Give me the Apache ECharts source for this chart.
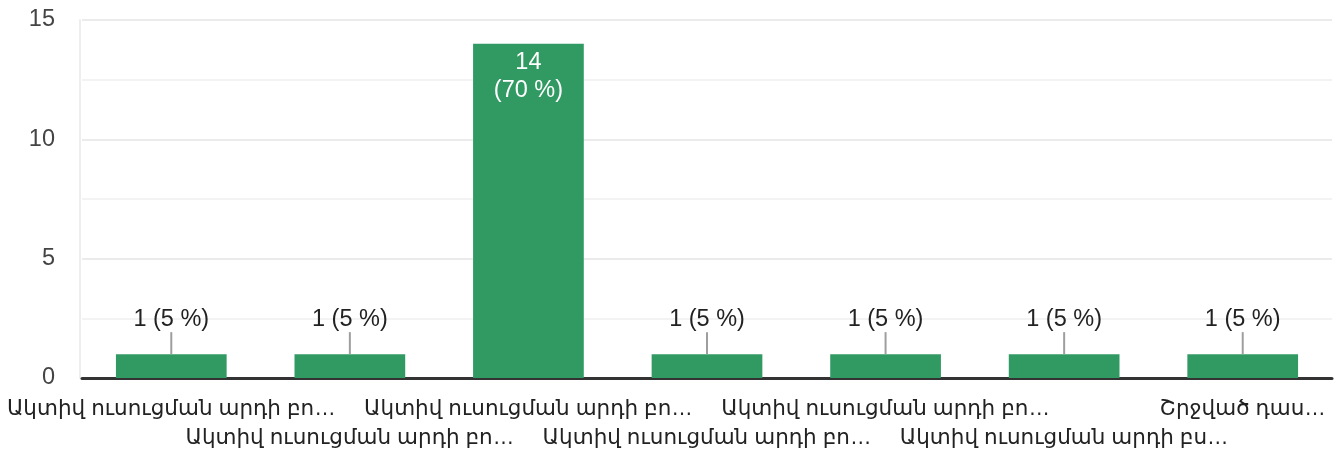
<!DOCTYPE html>
<html>
<head>
<meta charset="utf-8">
<script src="https://cdn.jsdelivr.net/npm/echarts@6/dist/echarts.min.js"></script>
<style>
html,body{margin:0;padding:0;background:#fff;}
#chart{width:1336px;height:455px;}
</style>
</head>
<body>
<div id="chart"></div>
<script>
const categories = [
  "Ակտիվ ուսուցման արդի բո…",
  "Ակտիվ ուսուցման արդի բո…",
  "Ակտիվ ուսուցման արդի բո…",
  "Ակտիվ ուսուցման արդի բո…",
  "Ակտիվ ուսուցման արդի բո…",
  "Ակտիվ ուսուցման արդի բս…",
  "Շրջված դաս…"
];
const counts = [1, 1, 14, 1, 1, 1, 1];
const percents = [5, 5, 70, 5, 5, 5, 5];
const yTicks = [0, 5, 10, 15];

const FONT = 'Liberation Sans, Arial, Roboto, DejaVu Sans, sans-serif';
const GREEN = '#319a63';

const data = counts.map((v, i) => {
  const inside = v > 10;
  return {
    value: v,
    label: inside ? {
      show: true,
      position: 'insideTop',
      distance: 5,
      color: '#ffffff',
      fontSize: 23.5,
      lineHeight: 28,
      fontFamily: FONT,
      align: 'center',
      formatter: v + '\n(' + percents[i] + ' %)'
    } : {
      show: true,
      position: 'top',
      distance: 0,
      align: 'center',
      formatter: '{t|' + v + ' (' + percents[i] + ' %)}\n{l|}',
      rich: {
        t: { fontSize: 23.5, lineHeight: 25, color: '#222222', fontFamily: FONT, align: 'center' },
        l: { width: 2, height: 22, backgroundColor: '#9e9e9e', align: 'center' }
      }
    }
  };
});

const chart = echarts.init(document.getElementById('chart'), null, { renderer: 'canvas' });
chart.setOption({
  animation: false,
  backgroundColor: '#ffffff',
  grid: { left: 82, right: 4, top: 20, bottom: 77, containLabel: false },
  xAxis: {
    type: 'category',
    data: categories,
    axisTick: { show: false },
    axisLine: { show: true, lineStyle: { color: '#333333', width: 3 } },
    axisLabel: {
      interval: 0,
      margin: 17,
      fontSize: 21.5,
      lineHeight: 29,
      color: '#222222',
      fontFamily: FONT,
      formatter: (val, idx) => (idx % 2 === 1 ? '\n' + val : val)
    }
  },
  yAxis: {
    type: 'value',
    min: yTicks[0],
    max: yTicks[yTicks.length - 1],
    interval: yTicks[1] - yTicks[0],
    offset: 2,
    axisLine: { show: true, lineStyle: { color: '#eeeeee', width: 2 } },
    axisTick: { show: false },
    axisLabel: { margin: 25, fontSize: 23.5, color: '#444444', fontFamily: FONT },
    splitLine: { show: true, lineStyle: { color: '#ebebeb', width: 2 } },
    minorTick: { show: false, splitNumber: 2 },
    minorSplitLine: { show: true, lineStyle: { color: '#f3f3f3', width: 2 } }
  },
  series: [{
    type: 'bar',
    data: data,
    barWidth: '62%',
    itemStyle: { color: GREEN },
    z: 3
  }]
});
</script>
</body>
</html>
